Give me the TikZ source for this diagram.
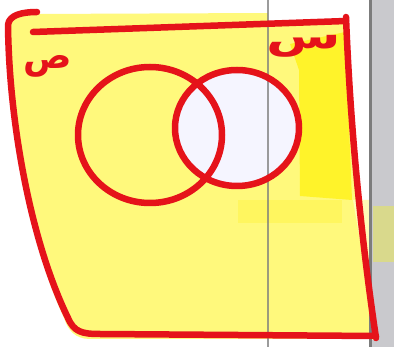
\documentclass[tikz,border=0pt]{standalone}
\usepackage{fontspec}
\newfontfamily\arabicfont[Script=Arabic]{DejaVu Sans}
\TeXXeTstate=1
\definecolor{pen}{HTML}{E5131A}
\definecolor{hl}{HTML}{FFF97C}
\definecolor{hlbright}{HTML}{FFF32A}
\definecolor{panel}{HTML}{C9C9CD}
\definecolor{rulegray}{HTML}{7C7C7C}
\definecolor{khaki}{HTML}{D9D98C}
\tikzset{
  penstroke/.style={draw=pen, line width=6.5pt, line cap=round, line join=round},
  letter/.style={text=pen, inner sep=0pt, font=\arabicfont\bfseries\fontsize{36}{36}\selectfont},
}
\begin{document}
\begin{tikzpicture}[x=1pt,y=-1pt]
\useasboundingbox (0,0) rectangle (394,347);
\fill[white] (0,0) rectangle (394,347);
% screen panel on the right
\fill[panel] (372,0) rectangle (394,347);
\fill[khaki] (373,206) rectangle (394,262);
% highlighter
\fill[hl] (33,14) -- (268,13) -- (268,22) -- (348,20)
  .. controls (352,120) and (362,230) .. (378,339) -- (90,339)
  .. controls (75,339) and (68,330) .. (64,318)
  .. controls (28,240) and (7,120) .. (8,25) .. controls (10,15) and (20,14) .. (33,14) -- cycle;
\fill[hl!55] (353,200) -- (370,200) -- (370,340) -- (377,340) -- cycle;
\fill[hlbright] (290,44) -- (345,32) -- (350,150) -- (352,200) -- (300,196) -- (299,70) -- cycle;
\fill[hlbright!75] (238,200) rectangle (342,223);
% inside of the right ring
\fill[white!96!blue] (237,128) ellipse [x radius=62, y radius=58];
% screen rules
\draw[rulegray, line width=2pt, opacity=.75] (268,0) -- (268,347);
\draw[rulegray, line width=2.5pt] (370.5,0) -- (370.5,347);
% red frame
\draw[penstroke] (37,12) .. controls (22,12) and (9,15) .. (8,25)
  .. controls (9,120) and (30,240) .. (68,318)
  .. controls (74,332) and (82,334) .. (100,334) -- (376,336);
\draw[penstroke] (33,32) -- (346,21);
\draw[penstroke] (346,17) .. controls (350,120) and (360,230) .. (376,338);
% rings
\draw[penstroke] (150,135) ellipse [x radius=72, y radius=68];
\draw[penstroke] (237,128) ellipse [x radius=62, y radius=58];
% labels
\node[letter] (sad) at (48,66) {\beginR ص\endR};
\node[letter, xscale=1.5] (sin) at (304,46) {\beginR س\endR};
\end{tikzpicture}
\end{document}
